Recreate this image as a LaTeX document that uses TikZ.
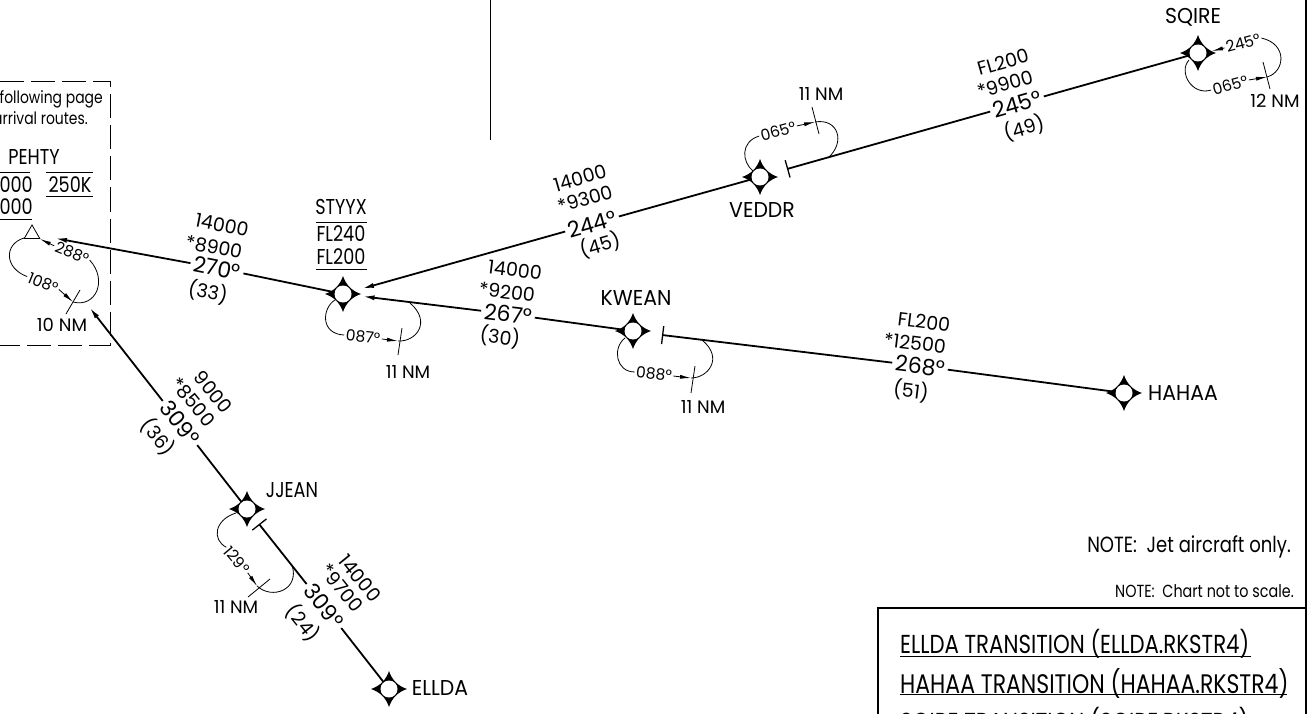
\documentclass[tikz,border=0pt]{standalone}
\usepackage{fontspec}
\setmainfont[FakeStretch=0.82]{Poppins}
\newfontfamily\numfont[FakeStretch=1.0]{Poppins}
\newfontfamily\widefont[FakeStretch=0.95]{Poppins}
\usetikzlibrary{arrows.meta,shapes.geometric}

\newcommand{\fixat}[2]{
  \fill[shift={#2}] (18,0) .. controls (9,3) and (3,9) .. (0,18)
    .. controls (-3,9) and (-9,3) .. (-18,0)
    .. controls (-9,-3) and (-3,-9) .. (0,-18)
    .. controls (3,-9) and (9,-3) .. (18,0);
  \node[fixpt] (#1) at #2 {};
}

\begin{document}
\begin{tikzpicture}[x=1pt,y=-1pt]
  \tikzset{
    fixpt/.style={circle, fill=white, inner sep=0pt, minimum size=17pt},
    fixname/.style={font=\fontsize{21.5}{21.5}\selectfont, inner sep=0pt},
    fixwide/.style={font=\widefont\fontsize{21.5}{21.5}\selectfont, inner sep=0pt},
    alt/.style={font=\numfont\fontsize{19}{19}\selectfont, inner sep=0pt},
    hdg/.style={font=\numfont\fontsize{22}{22}\selectfont, inner sep=3pt},
    brg/.style={font=\numfont\fontsize{15.5}{15.5}\selectfont, inner sep=1.5pt},
    dist/.style={font=\numfont\fontsize{18}{18}\selectfont, inner sep=0pt},
    note/.style={font=\fontsize{#1}{#1}\selectfont, inner sep=0pt, anchor=east},
    trans/.style={font=\fontsize{#1}{#1}\selectfont, inner sep=0pt, anchor=west},
    route/.style={line width=1.8pt},
    arr/.style={-{Latex[length=12pt,width=5pt]}},
    tick/.style={-{Bar[width=18pt,line width=1.3pt]}},
    hold/.style={line width=.8pt},
    holdarr/.style={hold, -{Latex[length=11pt,width=4pt]}},
    rulex/.style={line width=.9pt}
  }
  \useasboundingbox (0,0) rectangle (1308,714);
  \clip (0,0) rectangle (1308,714);

  \fixat{STYYX}{(343,294)}
  \fixat{KWEAN}{(633,331)}
  \fixat{VEDDR}{(760,177)}
  \fixat{SQIRE}{(1198,53)}
  \fixat{JJEAN}{(247,509)}
  \fixat{ELLDA}{(389,689)}
  \fixat{HAHAA}{(1124,393)}
  \node[draw, regular polygon, regular polygon sides=3, minimum size=18pt, inner sep=0pt, line width=.8pt] (PEHTY) at (32,234) {};

  \node[fixname] (nStyyx) at (341,207) {STYYX};
  \node[fixname] at (341,234) {FL240};
  \node[fixname] at (341,257) {FL200};
  \node[fixwide] at (636,298) {KWEAN};
  \node[fixwide] at (762,210) {VEDDR};
  \node[fixwide] at (1193,17) {SQIRE};
  \node[fixname] at (292,490) {JJEAN};
  \node[fixwide] at (440,688) {ELLDA};
  \node[fixwide] at (1183,393) {HAHAA};
  \draw[rulex] (316,222) -- (367,222);
  \draw[rulex] (316,269) -- (367,269);

  \node[hdg, rotate=-11] (h270) at (217,268) {270°};
  \node[alt, rotate=-11] at (222,225) {14000};
  \node[alt, rotate=-11] at (214,247) {*8900};
  \node[alt, rotate=-11] at (208,292) {(33)};

  \node[hdg, rotate=-7] (h267) at (508,314) {267°};
  \node[alt, rotate=-7] at (515,270) {14000};
  \node[alt, rotate=-7] at (507,292) {*9200};
  \node[alt, rotate=-7] at (500,337) {(30)};

  \node[hdg, rotate=-7] (h268) at (920,366) {268°};
  \node[alt, rotate=-7] at (924,322) {FL200};
  \node[alt, rotate=-7] at (915,343) {*12500};
  \node[alt, rotate=-7] at (911,391) {(51)};

  \node[hdg, rotate=16] (h244) at (592,224) {244°};
  \node[alt, rotate=16] at (580,178) {14000};
  \node[alt, rotate=16] at (585,199) {*9300};
  \node[alt, rotate=16] at (600,245) {(45)};

  \node[hdg, rotate=16] (h245) at (1017,104) {245°};
  \node[alt, rotate=16] at (1003,62) {FL200};
  \node[alt, rotate=16] at (1005,84) {*9900};
  \node[alt, rotate=16] at (1024,128) {(49)};

  \node[hdg, rotate=-51] (h309a) at (180,423) {309°};
  \node[alt, rotate=-51] at (213,392) {9000};
  \node[alt, rotate=-51] at (193,402) {*8500};
  \node[alt, rotate=-51] at (158,437) {(36)};

  \node[hdg, rotate=-51] (h309b) at (324,606) {309°};
  \node[alt, rotate=-51] at (360,578) {14000};
  \node[alt, rotate=-51] at (342,588) {*9700};
  \node[alt, rotate=-51] at (303,623) {(24)};

  \coordinate (tKwean) at (662,335);
  \coordinate (tVeddr) at (787,169);
  \coordinate (tJjean) at (259,524);
  \draw[route] (STYYX) -- (h270);
  \draw[route, arr, shorten >=17pt] (h270) -- (PEHTY);
  \draw[route] (KWEAN) -- (h267);
  \draw[route, arr, shorten >=11pt] (h267) -- (STYYX);
  \draw[route] (VEDDR) -- (h244);
  \draw[route, arr, shorten >=11pt] (h244) -- (STYYX);
  \draw[route] (HAHAA) -- (h268);
  \draw[route, tick] (h268) -- (tKwean);
  \draw[route] (SQIRE) -- (h245);
  \draw[route, tick] (h245) -- (tVeddr);
  \draw[route] (ELLDA) -- (h309b);
  \draw[route, tick] (h309b) -- (tJjean);
  \draw[route] (JJEAN) -- (h309a);
  \draw[route, arr, shorten >=87pt] (h309a) -- (PEHTY);

  \node[brg, rotate=-6] (b087) at (363,337) {087°};
  \coordinate (p087) at (398,341);
  \draw[hold] (335,300) .. controls (322,308) and (320,334) .. (b087.west);
  \draw[holdarr] (b087.east) -- (p087);
  \draw[hold] (p087) .. controls (416,342) and (432,322) .. (410,303);
  \draw[hold] (402,328) -- (398,355);
  \node[dist] at (408,372) {11 NM};

  \node[brg, rotate=-6] (b088) at (654,374) {088°};
  \coordinate (p088) at (691,378);
  \draw[hold] (625,338) .. controls (612,348) and (616,372) .. (b088.west);
  \draw[holdarr] (b088.east) -- (p088);
  \draw[hold] (p088) .. controls (708,378) and (724,358) .. (702,340);
  \draw[hold] (695,366) -- (691,393);
  \node[dist] at (703,407) {11 NM};

  \node[brg, rotate=15] (b065a) at (778,131) {065°};
  \coordinate (p065a) at (815,122);
  \draw[hold] (753,171) .. controls (742,162) and (740,142) .. (b065a.west);
  \draw[holdarr] (b065a.east) -- (p065a);
  \draw[hold] (p065a) .. controls (838,118) and (846,142) .. (828,158);
  \draw[hold] (812,107) -- (819,134);
  \node[dist] at (821,94) {11 NM};

  \node[brg, rotate=15] (b065b) at (1230,85) {065°};
  \node[brg, rotate=15] (b245) at (1243,43) {245°};
  \coordinate (p065b) at (1267,77);
  \draw[hold] (1189,60) .. controls (1178,72) and (1192,96) .. (b065b.west);
  \draw[holdarr] (b065b.east) -- (p065b);
  \draw[hold] (p065b) .. controls (1285,72) and (1288,44) .. (b245.east);
  \draw[holdarr] (b245.west) -- (1212,51);
  \draw[hold] (1263,62) -- (1270,89);
  \node[dist] at (1275,101) {12 NM};

  \node[brg, rotate=-50] (b129) at (237,560) {129°};
  \coordinate (p129) at (257,586);
  \draw[hold] (236,513) .. controls (214,520) and (212,540) .. (b129.west);
  \draw[holdarr] (b129.east) -- (p129);
  \draw[hold] (p129) .. controls (272,600) and (300,590) .. (292,565);
  \draw[hold] (270,579) -- (248,597);
  \node[dist] at (236,607) {11 NM};

  \node[brg, rotate=-22] (b288) at (72,253) {288°};
  \node[brg, rotate=-22] (b108) at (43,283) {108°};
  \coordinate (p108) at (73,302);
  \draw[holdarr] (b288.west) -- (40,239);
  \draw[hold] (24,238) .. controls (4,244) and (4,268) .. (b108.west);
  \draw[holdarr] (b108.east) -- (p108);
  \draw[hold] (p108) .. controls (96,308) and (108,280) .. (b288.east);
  \draw[hold] (80,290) -- (66,314);
  \node[dist] at (62,325) {10 NM};

  \draw[dash pattern=on 24pt off 7pt, line width=.9pt] (0,81) -- (110.5,81) -- (110.5,345) -- (0,345);
  \node[note=17] at (103,99) {following page};
  \node[note=17] at (88,118) {arrival routes.};
  \node[fixname] at (34,157) {PEHTY};
  \node[fixname, anchor=east] at (33,185) {000};
  \node[fixname, anchor=east] at (33,207) {000};
  \node[fixname] at (70,185) {250K};
  \draw[rulex] (0,172) -- (30,172);
  \draw[rulex] (46,172) -- (93,172);
  \draw[rulex] (46,196) -- (93,196);
  \draw[rulex] (0,219) -- (32,219);

  \draw[line width=1pt] (490,0) -- (490,140);
  \draw[line width=2.5pt] (1306,0) -- (1306,714);
  \draw[line width=2.5pt] (878,714) -- (878,608) -- (1306,608);

  \node[note=22] at (1291,547) {NOTE:\ \ Jet aircraft only.};
  \node[note=17.5] at (1294,591) {NOTE:\ \ Chart not to scale.};
  \node[trans=26] at (900,644) {ELLDA TRANSITION (ELLDA.RKSTR4)};
  \node[trans=26.8] at (900,683) {HAHAA TRANSITION (HAHAA.RKSTR4)};
  \node[trans=26] at (900,722) {SQIRE TRANSITION (SQIRE.RKSTR4)};
  \draw[rulex] (900,656) -- (1251,656);
  \draw[rulex] (900,694) -- (1287,694);
\end{tikzpicture}
\end{document}
